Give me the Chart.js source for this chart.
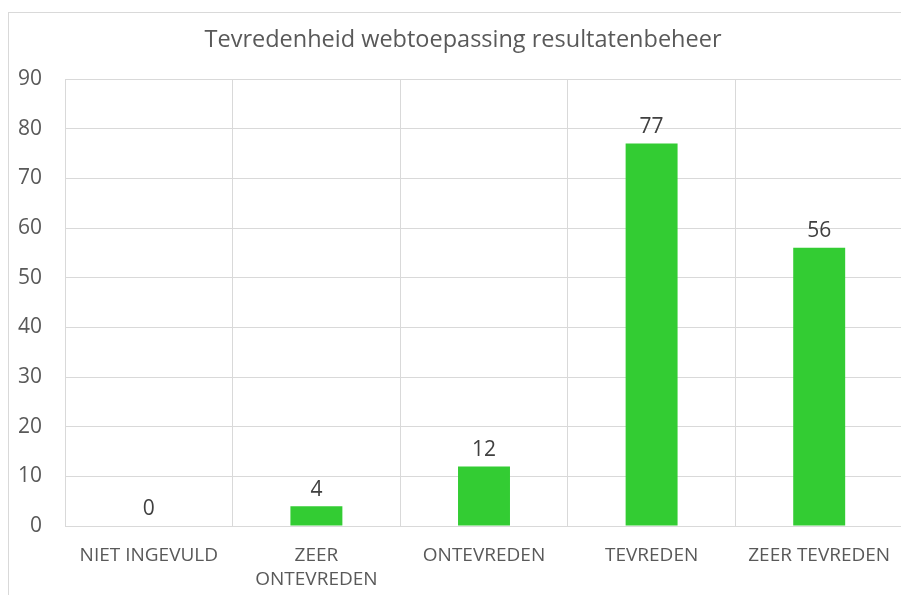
<!DOCTYPE html>
<html>
<head>
<meta charset="utf-8">
<script src="https://cdn.jsdelivr.net/npm/chart.js@4"></script>
<style>
  html, body { margin: 0; padding: 0; background: #fff; overflow: hidden; }
  #wrap { width: 901px; height: 595px; overflow: hidden; }
</style>
</head>
<body>
<div id="wrap"><canvas id="chart" width="904" height="595"></canvas></div>
<script>
// Data
const title = "Tevredenheid webtoepassing resultatenbeheer";
const categories = ["NIET INGEVULD", ["ZEER", "ONTEVREDEN"], "ONTEVREDEN", "TEVREDEN", "ZEER TEVREDEN"];
const counts = [0, 4, 12, 77, 56];
const yTicks = [0, 10, 20, 30, 40, 50, 60, 70, 80, 90];

const FONT = "'Open Sans', sans-serif";
const gridColor = "#d9d9d9";

// outer chart frame and the title (the frame runs past the window on the right,
// so the title is centred on the frame, not on the canvas)
const frame = {
    id: "frame",
    beforeDraw(chart) {
        const ctx = chart.ctx;
        ctx.save();
        ctx.strokeStyle = gridColor;
        ctx.lineWidth = 1;
        ctx.strokeRect(8.5, 12.5, 1000, 1000);
        ctx.font = "23.5px " + FONT;
        ctx.fillStyle = "#595959";
        ctx.textAlign = "center";
        ctx.textBaseline = "alphabetic";
        ctx.fillText(title, 463, 47);
        ctx.restore();
    }
};

// value labels above the bars
const valueLabels = {
    id: "valueLabels",
    afterDatasetsDraw(chart) {
        const ctx = chart.ctx;
        const meta = chart.getDatasetMeta(0);
        ctx.save();
        ctx.font = "21px " + FONT;
        ctx.fillStyle = "#404040";
        ctx.textAlign = "center";
        ctx.textBaseline = "bottom";
        meta.data.forEach((bar, i) => {
            ctx.fillText(String(counts[i]), bar.x, bar.y - 6);
        });
        ctx.restore();
    }
};

new Chart(document.getElementById("chart"), {
    type: "bar",
    data: {
        labels: categories,
        datasets: [{
            data: counts,
            backgroundColor: "#33cc33",
            categoryPercentage: 1,
            barPercentage: 0.31
        }]
    },
    options: {
        responsive: false,
        animation: false,
        layout: { padding: { top: 79, left: 8, right: 1, bottom: 0 } },
        plugins: {
            legend: { display: false },
            tooltip: { enabled: false },
            title: { display: false }
        },
        scales: {
            x: {
                grid: {
                    // last (right-hand) separator lies outside the visible frame
                    color: (c) => c.type === "tick" ? gridColor : "rgba(0,0,0,0)",
                    drawTicks: false,
                    offset: true
                },
                border: { display: false },
                ticks: {
                    color: "#595959",
                    font: { family: FONT, size: 19, lineHeight: 1.3 },
                    padding: 17,
                    maxRotation: 0,
                    autoSkip: false
                },
                afterFit(axis) {
                    axis.height = 69;
                    axis.paddingLeft = 0;
                    axis.paddingRight = 0;
                }
            },
            y: {
                min: 0,
                max: 90,
                grid: { color: gridColor, drawTicks: false },
                border: { display: false },
                afterBuildTicks(axis) { axis.ticks = yTicks.map(v => ({ value: v })); },
                ticks: {
                    color: "#595959",
                    font: { family: FONT, size: 21 },
                    padding: 23
                },
                afterFit(axis) {
                    axis.width = 57;
                    axis.paddingTop = 0;
                    axis.paddingBottom = 0;
                }
            }
        }
    },
    plugins: [frame, valueLabels]
});
</script>
</body>
</html>
